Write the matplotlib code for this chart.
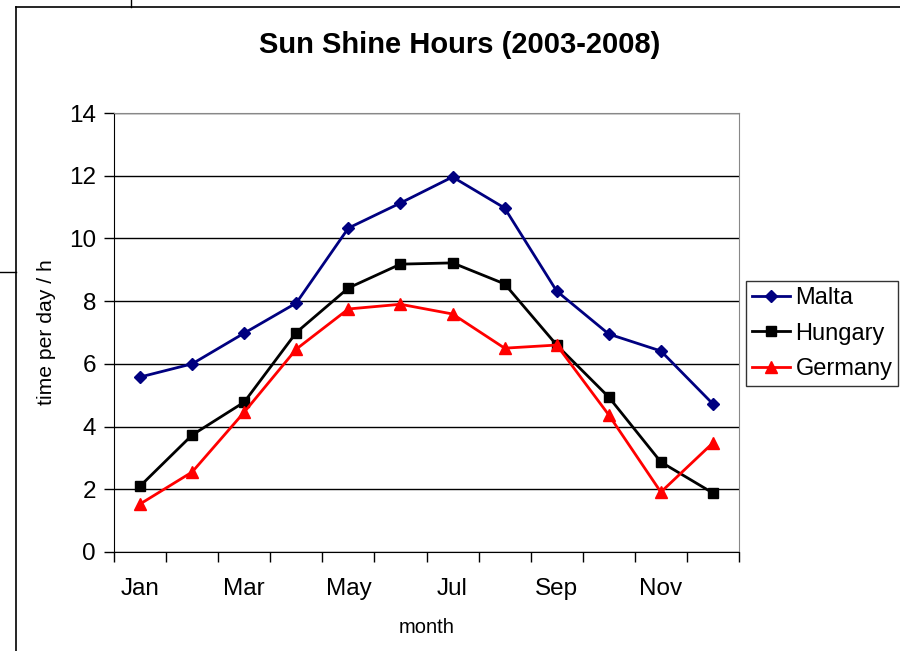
import numpy as np
import matplotlib
matplotlib.use("Agg")
import matplotlib.pyplot as plt
from matplotlib.lines import Line2D

plt.rcParams['font.family'] = ['Liberation Sans', 'DejaVu Sans']

# monthly sunshine hours per day
months = ['Jan', 'Feb', 'Mar', 'Apr', 'May', 'Jun',
          'Jul', 'Aug', 'Sep', 'Oct', 'Nov', 'Dec']
malta = [5.58, 6.0, 6.98, 7.94, 10.33, 11.13, 11.96, 10.97, 8.32, 6.95, 6.41, 4.72]
hungary = [2.1, 3.73, 4.78, 7.0, 8.42, 9.18, 9.22, 8.55, 6.6, 4.94, 2.87, 1.88]
germany = [1.53, 2.55, 4.46, 6.47, 7.75, 7.9, 7.59, 6.5, 6.6, 4.37, 1.91, 3.48]

fig = plt.figure(figsize=(9, 6.51), dpi=100)
ax = fig.add_axes([114/900, 99/651, 625/900, 439/651])

x = np.arange(len(months))
ax.plot(x, malta, color='#000080', lw=2, marker='D', ms=6.5, label='Malta', zorder=3)
ax.plot(x, hungary, color='black', lw=2, marker='s', ms=7.5, label='Hungary', zorder=3)
ax.plot(x, germany, color='red', lw=2, marker='^', ms=8.5, label='Germany', zorder=3)

ax.set_xlim(-0.5, 11.5)
ax.set_ylim(0, 14)
ax.set_yticks(np.arange(0, 15, 2))
ax.yaxis.grid(True, color='black', lw=1)
ax.set_axisbelow(True)

ax.set_xticks(x[::2])
ax.set_xticklabels(months[::2])
ax.set_xticks(np.arange(-0.5, 12, 1), minor=True)
ax.tick_params(axis='x', which='major', length=0, pad=19, labelsize=17.5)
ax.tick_params(axis='x', which='minor', length=7, width=1, direction='out')
ax.tick_params(axis='y', length=7, width=1, direction='out', labelsize=17.5, pad=6)

for s in ['top', 'right']:
    ax.spines[s].set_color('#888888')
for s in ['left', 'bottom']:
    ax.spines[s].set_color('black')

ax.set_xlabel('month', fontsize=14.5, labelpad=13)
ax.set_ylabel('time per day / h', fontsize=15.2, labelpad=9)
fig.text(460/900, 1 - 45/651, 'Sun Shine Hours (2003-2008)', ha='center', va='center',
         fontsize=21, fontweight='bold')

leg = fig.legend(loc='upper left', bbox_to_anchor=(746/900, 1 - 281/651),
                 frameon=True, fancybox=False, fontsize=17, handlelength=1.6,
                 borderpad=0.25, labelspacing=0.58, handletextpad=0.25, borderaxespad=0)
leg.get_frame().set_edgecolor('black')
leg.get_frame().set_linewidth(1)

# outer chart frame and stray sheet lines
fig.add_artist(Line2D([16/900, 16/900], [0, 1 - 7/651], color='black', lw=1.2))
fig.add_artist(Line2D([16/900, 1], [1 - 7/651, 1 - 7/651], color='black', lw=1.2))
fig.add_artist(Line2D([131/900, 131/900], [1 - 7/651, 1], color='black', lw=1))
fig.add_artist(Line2D([0, 16/900], [1 - 272/651, 1 - 272/651], color='black', lw=1))

fig.savefig('out.png', dpi=100)
